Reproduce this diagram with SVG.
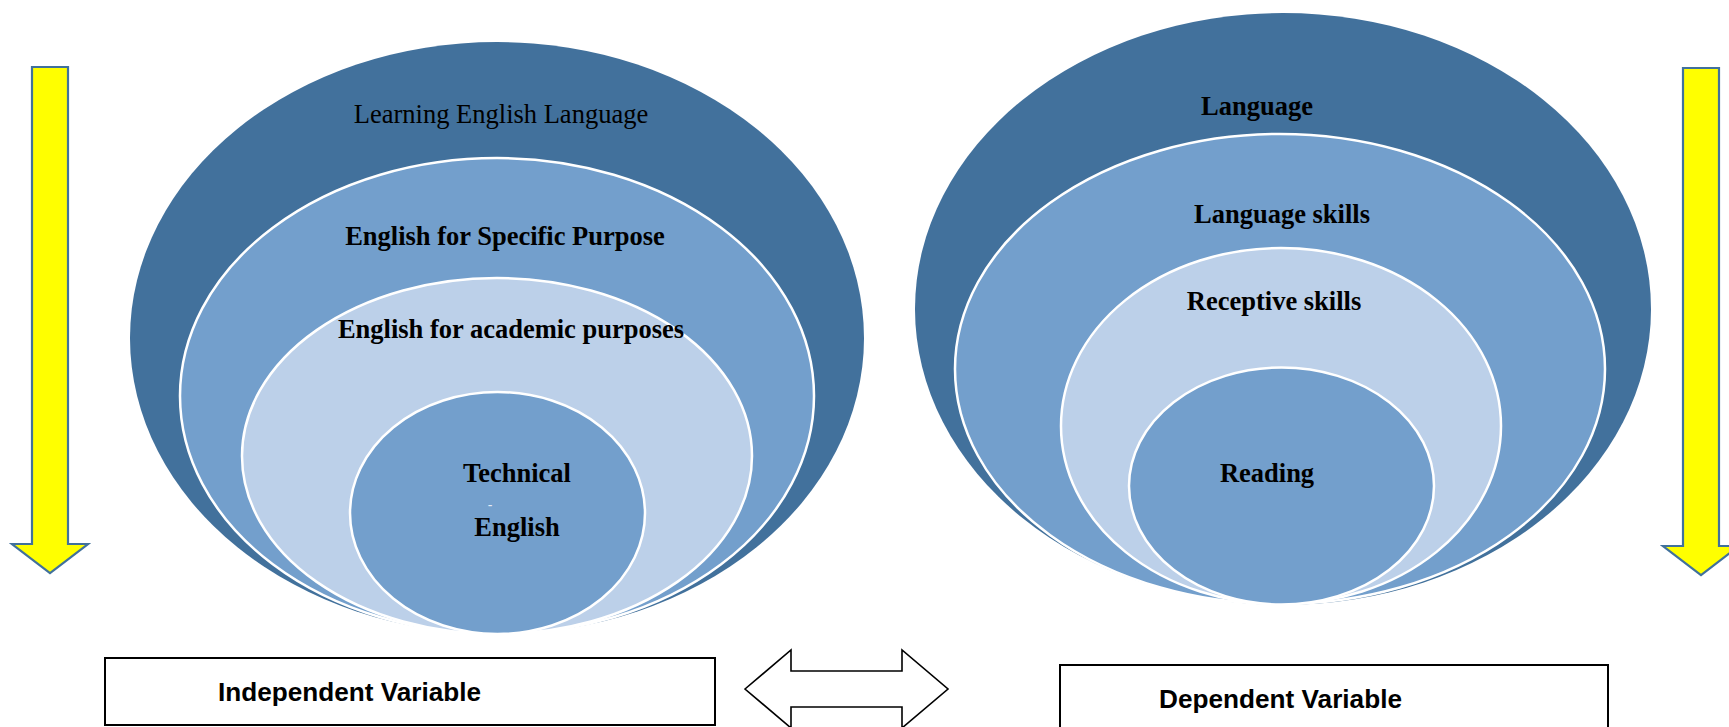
<svg xmlns="http://www.w3.org/2000/svg" width="1729" height="727" viewBox="0 0 1729 727">
  <style>
    .outer { fill: #42719C; }
    .mid { fill: #739FCC; stroke: #FFFFFF; stroke-width: 2.5; }
    .light { fill: #BCD0E9; stroke: #FFFFFF; stroke-width: 2.5; }
    .serif { font-family: "Liberation Serif", "Times New Roman", serif; font-size: 26.5px; fill: #000000; text-anchor: middle; }
    .bold { font-weight: bold; }
    .sans { font-family: "Liberation Sans", Arial, sans-serif; font-size: 25px; font-weight: bold; fill: #000000; }
    .box { fill: #FFFFFF; stroke: #000000; stroke-width: 2; }
    .yellow { fill: #FFFF00; stroke: #41719C; stroke-width: 2.2; stroke-linejoin: miter; }
    .twoway { fill: #FFFFFF; stroke: #000000; stroke-width: 1.6; stroke-linejoin: miter; }
  </style>

  <rect width="1729" height="727" fill="#FFFFFF"/>

  <!-- Independent variable: nested circles -->
  <g id="learning-english">
    <ellipse class="outer" cx="497" cy="338" rx="367" ry="296"/>
    <text class="serif" x="501" y="123">Learning English Language</text>
  </g>
  <g id="esp">
    <ellipse class="mid" cx="497" cy="396" rx="317" ry="238"/>
    <text class="serif bold" x="505" y="245">English for Specific Purpose</text>
  </g>
  <g id="eap">
    <ellipse class="light" cx="497" cy="456" rx="255" ry="178"/>
    <text class="serif bold" x="511" y="338">English for academic purposes</text>
  </g>
  <g id="technical-english">
    <ellipse class="mid" cx="497.5" cy="513" rx="147.5" ry="121"/>
    <text class="serif bold" x="517" y="482">Technical</text>
    <text x="490" y="510" font-family="Liberation Sans, Arial, sans-serif" font-size="14" fill="#E4ECF6" text-anchor="middle">-</text>
    <text class="serif bold" x="517" y="536">English</text>
  </g>

  <!-- Dependent variable: nested circles -->
  <g id="language">
    <ellipse class="outer" cx="1283" cy="309" rx="368" ry="296"/>
    <text class="serif bold" x="1257" y="115">Language</text>
  </g>
  <g id="language-skills">
    <ellipse class="mid" cx="1280" cy="369" rx="325" ry="235"/>
    <text class="serif bold" x="1282" y="223">Language skills</text>
  </g>
  <g id="receptive-skills">
    <ellipse class="light" cx="1281" cy="426" rx="220" ry="178"/>
    <text class="serif bold" x="1274" y="310">Receptive skills</text>
  </g>
  <g id="reading">
    <ellipse class="mid" cx="1281.5" cy="486" rx="152.5" ry="118.5"/>
    <text class="serif bold" x="1267" y="482">Reading</text>
  </g>

  <!-- Variable labels -->
  <g id="independent-variable">
    <rect class="box" x="105" y="658" width="610" height="67"/>
    <text class="sans" x="218" y="701" textLength="263" lengthAdjust="spacingAndGlyphs">Independent Variable</text>
  </g>
  <g id="dependent-variable">
    <rect class="box" x="1060" y="665" width="548" height="75"/>
    <text class="sans" x="1159" y="708" textLength="243" lengthAdjust="spacingAndGlyphs">Dependent Variable</text>
  </g>

  <!-- Connectors: downward block arrows and the two-way arrow -->
  <g id="connectors">
    <polygon class="yellow" points="32,67 68,67 68,544 88,544 50,573 12,544 32,544"/>
    <polygon class="yellow" points="1683,68 1719,68 1719,546 1739,546 1701,575 1663,546 1683,546"/>
    <polygon class="twoway" points="745,689 791,650 791,671 902,671 902,650 948,689 902,728 902,707 791,707 791,728"/>
  </g>
</svg>
